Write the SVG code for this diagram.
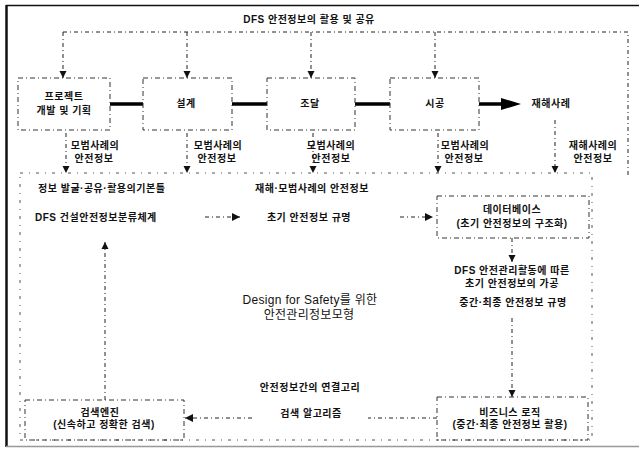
<svg xmlns="http://www.w3.org/2000/svg" width="639" height="458" viewBox="0 0 639 458">
<defs>
<marker id="ah" viewBox="0 0 10 10" refX="10" refY="5" markerWidth="7" markerHeight="9" markerUnits="userSpaceOnUse" orient="auto">
<path d="M0,0 L10,5 L0,10 Z" fill="#111"/>
</marker>
<marker id="ahw" viewBox="0 0 10 10" refX="10" refY="5" markerWidth="12" markerHeight="8" markerUnits="userSpaceOnUse" orient="auto">
<path d="M0,0 L10,5 L0,10 Z" fill="#111"/>
</marker>
</defs>
<style>
.t{font-family:"Liberation Sans","Noto Sans CJK KR",sans-serif;font-weight:bold;font-size:10px;fill:#111;text-anchor:middle;letter-spacing:0.5px}
.ts{text-anchor:start}
.big{font-weight:normal;font-size:12px;letter-spacing:0.3px}
.box{fill:none;stroke:#333;stroke-width:1;stroke-dasharray:5 3 1 3}
.enc{fill:none;stroke:#555;stroke-width:1;stroke-dasharray:3 6 1 6}
.dl{fill:none;stroke:#222;stroke-width:1;stroke-dasharray:4 3 1 3}
.thick{stroke:#000;stroke-width:3.5;fill:none}
</style>
<rect x="0" y="0" width="639" height="458" fill="#fff"/>
<g id="frame">
<line x1="6" y1="5.5" x2="639" y2="5.5" stroke="#111" stroke-width="1.5"/>
<line x1="6.5" y1="5" x2="6.5" y2="447" stroke="#111" stroke-width="2.5"/>
<line x1="6" y1="446.5" x2="639" y2="446.5" stroke="#999" stroke-width="1.5"/>
<rect class="enc" x="20" y="173" width="572" height="267"/>
</g>
<g id="title"><text class="t" x="309" y="23">DFS 안전정보의 활용 및 공유</text></g>

<g id="connectors">
<polyline class="dl" points="63,32 628,32 628,177"/>
<line class="dl" x1="63" y1="32" x2="63" y2="78" marker-end="url(#ah)"/>
<line class="dl" x1="187" y1="32" x2="187" y2="78" marker-end="url(#ah)"/>
<line class="dl" x1="311" y1="32" x2="311" y2="78" marker-end="url(#ah)"/>
<line class="dl" x1="435" y1="32" x2="435" y2="78" marker-end="url(#ah)"/>
<line class="thick" x1="110" y1="104" x2="143" y2="104"/>
<line class="thick" x1="232" y1="104" x2="267" y2="104"/>
<line class="thick" x1="355" y1="104" x2="390" y2="104"/>
<line class="thick" x1="479" y1="104" x2="504" y2="104"/>
<polygon points="501,98 521,104 501,110" fill="#000"/>
<line class="dl" x1="66" y1="133" x2="66" y2="173" marker-end="url(#ah)"/>
<line class="dl" x1="187" y1="133" x2="187" y2="173" marker-end="url(#ah)"/>
<line class="dl" x1="313" y1="133" x2="313" y2="173" marker-end="url(#ah)"/>
<line class="dl" x1="438" y1="133" x2="438" y2="173" marker-end="url(#ah)"/>
<line class="dl" x1="555" y1="120" x2="555" y2="173" marker-end="url(#ah)"/>
<line class="dl" x1="205" y1="217" x2="240" y2="217" marker-end="url(#ahw)"/>
<line class="dl" x1="400" y1="217" x2="433" y2="217" marker-end="url(#ahw)"/>
<line class="dl" x1="512" y1="238" x2="512" y2="262" marker-end="url(#ah)"/>
<line class="dl" x1="512" y1="318" x2="512" y2="397" marker-end="url(#ah)"/>
<line class="dl" x1="437" y1="418" x2="368" y2="418"/>
<line class="dl" x1="252" y1="418" x2="185" y2="418" marker-end="url(#ahw)"/>
<line class="dl" x1="105" y1="400" x2="105" y2="242" marker-end="url(#ah)"/>
</g>

<g id="n-plan"><rect class="box" x="18" y="78" width="92" height="52"/>
<text class="t" x="64" y="100">프로젝트</text><text class="t" x="64" y="114">개발 및 기획</text></g>
<g id="n-design"><rect class="box" x="143" y="78" width="89" height="52"/>
<text class="t" x="186" y="107">설계</text></g>
<g id="n-procure"><rect class="box" x="267" y="78" width="88" height="52"/>
<text class="t" x="310" y="107">조달</text></g>
<g id="n-build"><rect class="box" x="390" y="78" width="89" height="52"/>
<text class="t" x="435" y="107">시공</text></g>
<g id="n-accident"><text class="t" x="551" y="107">재해사례</text></g>

<g id="labels">
<text class="t" x="95" y="149">모범사례의</text><text class="t" x="94" y="162">안전정보</text>
<text class="t" x="218" y="149">모범사례의</text><text class="t" x="217" y="162">안전정보</text>
<text class="t" x="331" y="149">모범사례의</text><text class="t" x="331" y="162">안전정보</text>
<text class="t" x="465" y="149">모범사례의</text><text class="t" x="464" y="162">안전정보</text>
<text class="t" x="593" y="149">재해사례의</text><text class="t" x="593" y="162">안전정보</text>
</g>

<g id="n-framework">
<text class="t ts" x="38" y="192">정보 발굴·공유·활용의기본틀</text>
<text class="t ts" x="35" y="221">DFS 건설안전정보분류체계</text>
</g>
<g id="n-initial">
<text class="t" x="312" y="192">재해·모범사례의 안전정보</text>
<text class="t" x="309" y="221">초기 안전정보 규명</text>
</g>
<g id="n-database"><rect class="box" x="437" y="196" width="152" height="42"/>
<text class="t" x="512" y="213">데이터베이스</text><text class="t" x="512" y="227">(초기 안전정보의 구조화)</text></g>
<g id="n-process">
<text class="t" x="512" y="274">DFS 안전관리활동에 따른</text>
<text class="t" x="512" y="287">초기 안전정보의 가공</text>
<text class="t" x="513" y="306">중간·최종 안전정보 규명</text>
</g>
<g id="n-model">
<text class="t big" x="310" y="304">Design for Safety를 위한</text>
<text class="t big" x="309" y="319">안전관리정보모형</text>
</g>
<g id="n-business"><rect class="box" x="437" y="397" width="151" height="43"/>
<text class="t" x="510" y="416">비즈니스 로직</text><text class="t" x="510" y="428">(중간·최종 안전정보 활용)</text></g>
<g id="n-link">
<text class="t" x="310" y="391">안전정보간의 연결고리</text>
<text class="t" x="311" y="417">검색 알고리즘</text>
</g>
<g id="n-search"><rect class="box" x="25" y="400" width="159" height="40"/>
<text class="t" x="100" y="416">검색엔진</text><text class="t" x="104" y="428">(신속하고 정확한 검색)</text></g>
</svg>
